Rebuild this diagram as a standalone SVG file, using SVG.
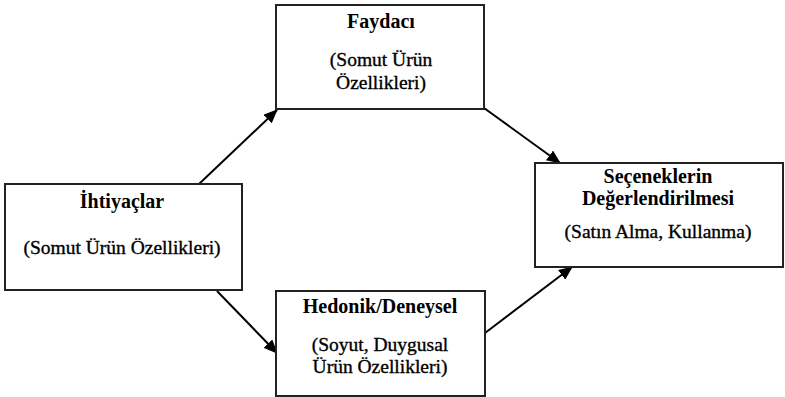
<svg xmlns="http://www.w3.org/2000/svg" width="785" height="397" viewBox="0 0 785 397">
  <style>
    .box { fill: #ffffff; stroke: #222222; stroke-width: 2; }
    .title { font-family: "Liberation Serif", "Times New Roman", serif; font-size: 20px; font-weight: bold; fill: #000; text-anchor: middle; }
    .sub { font-family: "Liberation Serif", "Times New Roman", serif; font-size: 19.5px; fill: #000; stroke: #000; stroke-width: 0.35; text-anchor: middle; }
    .conn { stroke: #000; stroke-width: 2; fill: none; marker-end: url(#head); }
  </style>
  <defs>
    <marker id="head" markerUnits="userSpaceOnUse" markerWidth="14" markerHeight="12" refX="13" refY="6" orient="auto">
      <path d="M0,0 L14,6 L0,12 Z" fill="#000"/>
    </marker>
  </defs>
  <rect width="785" height="397" fill="#ffffff"/>

  <g id="connectors">
    <line class="conn" x1="199" y1="184" x2="277" y2="110"/>
    <line class="conn" x1="484" y1="108" x2="560" y2="163"/>
    <line class="conn" x1="217" y1="291" x2="277" y2="353"/>
    <line class="conn" x1="485" y1="333" x2="572" y2="267"/>
  </g>

  <g id="faydaci">
    <rect class="box" x="276" y="5" width="208" height="104"/>
    <text class="title" x="381" y="28">Faydacı</text>
    <text class="sub" x="381" y="66">(Somut Ürün</text>
    <text class="sub" x="381" y="88.5">Özellikleri)</text>
  </g>

  <g id="ihtiyaclar">
    <rect class="box" x="5" y="184" width="237" height="106"/>
    <text class="title" x="122" y="208">İhtiyaçlar</text>
    <text class="sub" x="122" y="254">(Somut Ürün Özellikleri)</text>
  </g>

  <g id="hedonik">
    <rect class="box" x="276" y="291" width="209" height="105"/>
    <text class="title" x="380" y="313">Hedonik/Deneysel</text>
    <text class="sub" x="380" y="350.5">(Soyut, Duygusal</text>
    <text class="sub" x="380" y="373">Ürün Özellikleri)</text>
  </g>

  <g id="secenekler">
    <rect class="box" x="535" y="163" width="248" height="104"/>
    <text class="title" x="658" y="183">Seçeneklerin</text>
    <text class="title" x="658" y="205">Değerlendirilmesi</text>
    <text class="sub" x="658" y="238">(Satın Alma, Kullanma)</text>
  </g>
</svg>
